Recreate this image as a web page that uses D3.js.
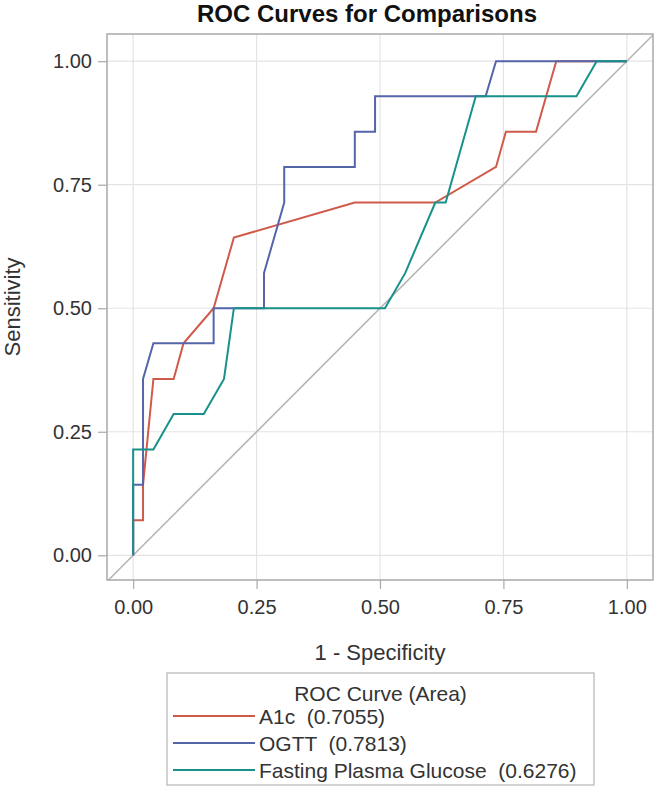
<!DOCTYPE html>
<html>
<head>
<meta charset="utf-8">
<script src="https://cdn.jsdelivr.net/npm/d3@7"></script>
<style>
  html, body { margin: 0; padding: 0; background: #fff; }
  svg { display: block; font-family: "Liberation Sans", Arial, sans-serif; }
</style>
</head>
<body>
<svg id="chart" width="656" height="787"></svg>
<script>
// ---- data (1 - specificity, sensitivity) ----
const seriesNames = ["A1c", "OGTT", "Fasting Plasma Glucose"];
const seriesAreas = ["0.7055", "0.7813", "0.6276"];
const a1cFpr  = [0, 0, 0.020, 0.020, 0.041, 0.082, 0.102, 0.163, 0.204, 0.449, 0.612, 0.735, 0.755, 0.816, 0.857, 1.0];
const a1cTpr  = [0, 0.071, 0.071, 0.143, 0.357, 0.357, 0.429, 0.5, 0.643, 0.714, 0.714, 0.786, 0.857, 0.857, 1.0, 1.0];
const ogttFpr = [0, 0, 0.020, 0.020, 0.041, 0.163, 0.163, 0.265, 0.265, 0.306, 0.306, 0.449, 0.449, 0.490, 0.490, 0.714, 0.735, 1.0];
const ogttTpr = [0, 0.143, 0.143, 0.357, 0.429, 0.429, 0.5, 0.5, 0.571, 0.714, 0.786, 0.786, 0.857, 0.857, 0.929, 0.929, 1.0, 1.0];
const fpgFpr  = [0, 0, 0.041, 0.082, 0.143, 0.184, 0.204, 0.510, 0.551, 0.612, 0.633, 0.694, 0.898, 0.939, 1.0];
const fpgTpr  = [0, 0.214, 0.214, 0.286, 0.286, 0.357, 0.5, 0.5, 0.571, 0.714, 0.714, 0.929, 0.929, 1.0, 1.0];
const tickValues = [0, 0.25, 0.5, 0.75, 1.0];
const tickLabels = ["0.00", "0.25", "0.50", "0.75", "1.00"];

const colors = ["#d05a4a", "#5565aa", "#17918a"];

// ---- layout ----
const svg = d3.select("#chart");
const L = 107, R = 653, T = 34, B = 580;
const x = d3.scaleLinear().domain([-0.053, 1.053]).range([L, R]);
const y = d3.scaleLinear().domain([-0.05, 1.055]).range([B, T]);

svg.append("defs").append("clipPath").attr("id", "clip")
  .append("rect").attr("x", L).attr("y", T).attr("width", R - L).attr("height", B - T);

// grid
const grid = svg.append("g");
tickValues.forEach(v => {
  grid.append("line").attr("x1", x(v)).attr("x2", x(v)).attr("y1", T).attr("y2", B)
    .attr("stroke", "#e4e4e4").attr("stroke-width", 1.2);
  grid.append("line").attr("x1", L).attr("x2", R).attr("y1", y(v)).attr("y2", y(v))
    .attr("stroke", "#e4e4e4").attr("stroke-width", 1.2);
});

// diagonal reference
svg.append("line").attr("clip-path", "url(#clip)")
  .attr("x1", x(-0.1)).attr("y1", y(-0.1)).attr("x2", x(1.1)).attr("y2", y(1.1))
  .attr("stroke", "#b4b4b4").attr("stroke-width", 1.5);

// curves
const line = d3.line().x(d => x(d[0])).y(d => y(d[1]));
const series = [
  d3.zip(a1cFpr, a1cTpr),
  d3.zip(ogttFpr, ogttTpr),
  d3.zip(fpgFpr, fpgTpr)
];
series.forEach((s, i) => {
  svg.append("path").datum(s).attr("d", line)
    .attr("fill", "none").attr("stroke", colors[i]).attr("stroke-width", 2)
    .attr("stroke-linejoin", "miter");
});

// frame
svg.append("rect").attr("x", L).attr("y", T).attr("width", R - L).attr("height", B - T)
  .attr("fill", "none").attr("stroke", "#a9a9a9").attr("stroke-width", 1.5);

// axes
const fmt = v => tickLabels[tickValues.indexOf(v)];
const xAxis = d3.axisBottom(x).tickValues(tickValues).tickFormat(fmt).tickSize(9).tickPadding(11);
const yAxis = d3.axisLeft(y).tickValues(tickValues).tickFormat(fmt).tickSize(9).tickPadding(6);
const gx = svg.append("g").attr("transform", `translate(0,${B})`).call(xAxis);
const gy = svg.append("g").attr("transform", `translate(${L},0)`).call(yAxis);
[gx, gy].forEach(g => {
  g.select(".domain").remove();
  g.selectAll(".tick line").attr("stroke", "#a9a9a9").attr("stroke-width", 1.2);
  g.selectAll(".tick text").attr("fill", "#333").style("font-size", "20px")
    .style("font-family", "'Liberation Sans', Arial, sans-serif");
});

// titles
svg.append("text").attr("x", 367).attr("y", 22).attr("text-anchor", "middle")
  .style("font-size", "24px").style("font-weight", "bold").attr("fill", "#111")
  .text("ROC Curves for Comparisons");
svg.append("text").attr("x", (L + R) / 2).attr("y", 660).attr("text-anchor", "middle")
  .style("font-size", "22px").attr("fill", "#333").text("1 - Specificity");
svg.append("text").attr("transform", `translate(20,${(T + B) / 2}) rotate(-90)`)
  .attr("text-anchor", "middle").style("font-size", "22px").attr("fill", "#333")
  .text("Sensitivity");

// legend
const lg = svg.append("g");
const LX = 167, LY = 673, LW = 427, LH = 112;
lg.append("rect").attr("x", LX).attr("y", LY).attr("width", LW).attr("height", LH)
  .attr("fill", "#fff").attr("stroke", "#b4b4b4").attr("stroke-width", 1.2);
lg.append("text").attr("x", LX + LW / 2).attr("y", LY + 28).attr("text-anchor", "middle")
  .style("font-size", "21px").attr("fill", "#333").text("ROC Curve (Area)");
seriesNames.forEach((n, i) => {
  const yy = LY + 43 + i * 27;
  lg.append("line").attr("x1", LX + 6).attr("x2", LX + 88).attr("y1", yy).attr("y2", yy)
    .attr("stroke", colors[i]).attr("stroke-width", 2);
  lg.append("text").attr("x", LX + 92).attr("y", yy + 7.5)
    .style("font-size", "21px").attr("fill", "#333")
    .style("white-space", "pre").attr("xml:space", "preserve")
    .text(`${n}  (${seriesAreas[i]})`);
});
</script>
</body>
</html>
